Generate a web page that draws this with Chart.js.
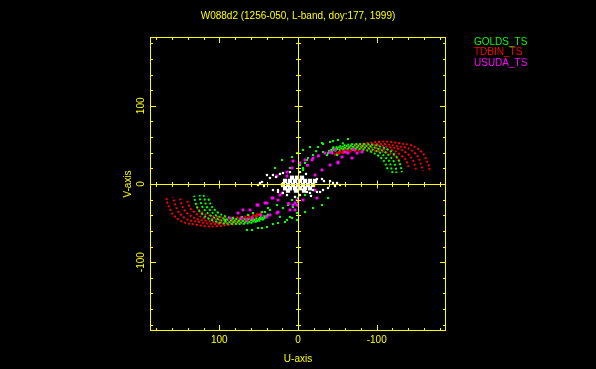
<!DOCTYPE html>
<html>
<head>
<meta charset="utf-8">
<script src="https://cdn.jsdelivr.net/npm/chart.js@4"></script>
<style>
  html, body { margin: 0; padding: 0; background: #000; }
  canvas { display: block; }
</style>
</head>
<body>
<canvas id="uv" width="596" height="369"></canvas>
<script>
// Text
const chartTitle = 'W088d2 (1256-050, L-band, doy:177, 1999)';
const xAxisTitle = 'U-axis';
const yAxisTitle = 'V-axis';
const seriesNames = ['GOLDS_TS', 'TDBIN_TS', 'USUDA_TS'];
const seriesColors = ['#00ff00', '#ff0000', '#ff00ff'];

// Axis range and ticks
const axisMin = -188;
const axisMax = 188;
const tickLabels = [100, 0, -100];
const minorTicks = [-180, -160, -140, -120, -100, -80, -60, -40, -20, 0, 20, 40, 60, 80, 100, 120, 140, 160, 180];

// TDBIN_TS tracks, [u, v]
const tdbinTracks = [
  [[-57, 46], [-72, 50], [-87, 52], [-104, 54], [-117, 54], [-129, 52], [-142, 50], [-151, 46], [-157, 41], [-161, 36], [-163, 31], [-166, 24], [-167, 18]],
  [[-54, 44], [-68, 47], [-83, 49], [-99, 51], [-111, 51], [-123, 49], [-135, 47], [-143, 44], [-149, 39], [-153, 34], [-155, 29], [-157, 23], [-159, 17]],
  [[-51, 41], [-65, 45], [-78, 47], [-94, 49], [-105, 49], [-116, 47], [-128, 45], [-136, 41], [-141, 37], [-145, 32], [-147, 28], [-149, 22], [-150, 16]],
  [[-48, 39], [-61, 43], [-74, 44], [-88, 46], [-99, 46], [-110, 44], [-121, 43], [-128, 39], [-133, 35], [-137, 31], [-139, 26], [-141, 20]],
  [[-46, 37], [-58, 40], [-70, 42], [-83, 43], [-94, 43], [-103, 42], [-114, 40], [-121, 37], [-126, 33], [-129, 28]],
  [[57, -46], [72, -50], [87, -52], [104, -54], [117, -54], [129, -52], [142, -50], [151, -46], [157, -41], [161, -36], [163, -31], [166, -24], [167, -18]],
  [[54, -44], [68, -47], [83, -49], [99, -51], [111, -51], [123, -49], [135, -47], [143, -44], [149, -39], [153, -34], [155, -29], [157, -23], [159, -17]],
  [[51, -41], [65, -45], [78, -47], [94, -49], [105, -49], [116, -47], [128, -45], [136, -41], [141, -37], [145, -32], [147, -28], [149, -22], [150, -16]],
  [[48, -39], [61, -43], [74, -44], [88, -46], [99, -46], [110, -44], [121, -43], [128, -39], [133, -35], [137, -31], [139, -26], [141, -20]],
  [[46, -37], [58, -40], [70, -42], [83, -43], [94, -43], [103, -42], [114, -40], [121, -37], [126, -33], [129, -28]],
];

// GOLDS_TS tracks, [u, v]
const goldsTracks = [
  [[-43, 45], [-56, 49], [-70, 51], [-84, 51], [-97, 50], [-107, 47], [-116, 43], [-122, 38], [-127, 32], [-130, 24], [-132, 15]],
  [[-41, 43], [-53, 47], [-66, 49], [-80, 49], [-92, 48], [-102, 45], [-110, 41], [-116, 36], [-121, 30], [-124, 22], [-125, 14]],
  [[-39, 41], [-51, 45], [-64, 47], [-76, 47], [-88, 46], [-97, 43], [-106, 39], [-111, 34], [-116, 29], [-118, 22], [-120, 14]],
  [[-37, 39], [-49, 43], [-61, 45], [-73, 45], [-84, 44], [-93, 41], [-101, 37], [-106, 33], [-110, 28], [-113, 21], [-115, 16]],
  [[43, -45], [56, -49], [70, -51], [84, -51], [97, -50], [107, -47], [116, -43], [122, -38], [127, -32], [130, -24], [132, -15]],
  [[41, -43], [53, -47], [66, -49], [80, -49], [92, -48], [102, -45], [110, -41], [116, -36], [121, -30], [124, -22], [125, -14]],
  [[39, -41], [51, -45], [64, -47], [76, -47], [88, -46], [97, -43], [106, -39], [111, -34], [116, -29], [118, -22], [120, -14]],
  [[37, -39], [49, -43], [61, -45], [73, -45], [84, -44], [93, -41], [101, -37], [106, -33], [110, -28], [113, -21], [115, -16]],
];

// GOLDS_TS sparse samples near the centre
const goldsDots = [
  [-44.5, 55], [-63.5, 57.5], [-31.8, 51.2], [-25.4, 47.3], [-15.2, 47.3], [-31.8, 40.9], [-39.4, 42.2],
  [-19.1, 37.1], [-12.7, 33.2], [-8.9, 26.9], [1.3, 39.6], [-6.4, 20.5], [-50.8, 56.3], [-40.7, 53.7],
  [-30.5, 52.4], [-6.4, 43.5], [-36.8, 37.1], [-49.6, 37.1], [-11.4, 30.7], [-2.5, 24.3], [7.6, 34.5],
  [20.3, 30.7], [29.2, 20.5], [10.2, 20.5], [-6.4, 17.9], [-57, 52], [-23, 42], [-45, 47],
  [7.6, -20.5], [6.4, -29.4], [7.6, -43.5], [-19.1, -30.7], [-8.9, -14.1], [12.7, -26.9], [19.1, -30.7],
  [26.7, -26.9], [38.1, -30.7], [45.7, -35.8], [57.2, -37.1], [63.5, -39.6], [48.3, -43.5], [58.4, -46],
  [16.5, -48.6], [25.4, -49.9], [31.8, -51.2], [39.4, -55], [50.8, -56.3], [58.4, -58.8], [1.3, -37.1],
  [-8.9, -35.8], [-30.5, -26.9], [-38.1, -17.9], [0, -17.9], [45.7, -56.3], [14, -46], [10.2, -42.2],
  [1.3, -46], [0, -23], [41.9, -35.8], [35.6, -33.2], [71.2, -42.2], [82.6, -43.5], [92.8, -46],
  [64.8, -46], [64.8, -58.8], [52, -47], [23, -42],
];

// USUDA_TS samples
const usudaDots = [
  [7.6, 20.5], [-2.5, 26.9], [-8.9, 30.7], [-19.1, 33.2], [-30.5, 17.9], [-40.7, 24.3], [-50.8, 26.9],
  [-34.3, 39.6], [-43.2, 39.6], [-55.9, 34.5], [-59.7, 40.9], [-63.5, 39.6], [-68.6, 33.2], [-75, 39.6],
  [-81.3, 40.9], [-21.6, 11.5], [-21.6, -7.7], [-6.4, -20.5], [1.3, -20.5], [-24.1, -17.9], [3.8, -33.2],
  [6.4, -26.9], [-40.7, 40.9], [-50.8, 28.1], [-17.8, 30.7], [6.4, 29.4], [14, 15.3],
  [-26, 36], [-47, 44], [-70, 44], [-12, 24],
  [31.8, -17.9], [25.4, -20.5], [39.4, -24.3], [52.1, -26.9], [61, -33.2], [58.4, -43.5], [35.6, -39.6],
  [26.7, -37.1], [3.8, -24.3], [64.8, -46], [86.4, -43.5], [76.2, -37.1], [69.9, -33.2], [50.8, -26.9],
  [41.9, -24.3], [33, -17.9], [22.9, -14.1], [39.4, -42.2], [20.3, -11.5], [26.7, 10.2], [14, 10.2],
  [1.3, -26.9], [10.2, -33.2], [25.4, -35.8], [47, -40], [72, -44], [12, -25],
];

// Short baselines (white), core and fringe
const shortCore = [
  [16.5, 4], [10.2, 4], [3.8, 4], [-2.5, 4], [-8.9, 4], [-15.2, 4], [-21.6, 4],
  [19.1, -1.3], [12.7, -1.3], [6.4, -1.3], [0, -1.3], [-6.4, -1.3], [-12.7, -1.3], [-19.1, -1.3],
  [16.5, -5.5], [10.2, -5.5], [3.8, -5.5], [-2.5, -5.5], [-8.9, -5.5], [-15.2, -5.5],
  [7.6, 8], [1.3, 8], [-5.1, 8], [12.7, -8.5], [2.5, -8.5], [-7.6, -8.5],
];
const shortFringe = [
  [48.3, 1.3], [45.7, 2.6], [43.2, -2.6], [50.8, -1.3], [39.4, 11.5], [35.6, 7.7], [31.8, 11.5],
  [28, 9], [22.9, 12.8], [19.1, 14.1], [10.2, 15.3], [-2.5, 15.3], [-10.2, 12.8], [-24.1, 6.4],
  [-30.5, 6.4], [-33, 3.8], [-40.7, 3.8], [-44.5, 1.3], [-49.6, 1.3], [-53.4, -1.3], [-47, -2.6],
  [31.8, -7.7], [25.4, -7.7], [25.4, -10.2], [19.1, -11.5], [14, -14.1], [3.8, -16.6], [-2.5, -14.1],
  [-11.4, -10.2], [-15.2, -11.5], [-16.5, -15.3], [-19.1, -7.7], [-24.1, -10.2], [-28, -10.2],
  [-31.8, -7.7], [-38.1, -5.1],
];

function trackSet(points, color) {
  return {
    data: points,
    showLine: true,
    borderColor: color,
    borderWidth: 2,
    borderDash: [2, 2],
    tension: 0.4,
    pointRadius: 0,
    fill: false,
  };
}

function dotSet(points, color, size) {
  return {
    data: points,
    showLine: false,
    pointStyle: 'rect',
    pointRadius: size,
    backgroundColor: color,
    borderWidth: 0,
  };
}

// first dataset is drawn on top
const datasets = [
  dotSet(shortCore, '#ffffff', 3),
  dotSet(shortFringe, '#ffffff', 1.6),
  dotSet(usudaDots, seriesColors[2], 2),
  dotSet(goldsDots, seriesColors[0], 1.5),
  ...goldsTracks.map((t) => trackSet(t, seriesColors[0])),
  ...tdbinTracks.map((t) => trackSet(t, seriesColors[1])),
];

// Frame, ticks, labels and legend in the PGPLOT style
const framePlugin = {
  id: 'frame',
  afterDraw(chart) {
    const { ctx, chartArea: a, scales: { x, y } } = chart;
    ctx.save();
    ctx.strokeStyle = '#ffff00';
    ctx.fillStyle = '#ffff00';
    ctx.lineWidth = 1;
    ctx.strokeRect(a.left + 0.5, a.top + 0.5, a.right - a.left - 1, a.bottom - a.top - 1);

    const x0 = Math.round(x.getPixelForValue(0)) + 0.5;
    const y0 = Math.round(y.getPixelForValue(0)) + 0.5;
    ctx.beginPath();
    ctx.moveTo(x0, a.top);
    ctx.lineTo(x0, a.bottom);
    ctx.moveTo(a.left, y0);
    ctx.lineTo(a.right, y0);
    minorTicks.forEach((t) => {
      const major = tickLabels.includes(t);
      const len = major ? 6 : 3;
      const half = major ? 4 : 2.5;
      const px = Math.round(x.getPixelForValue(t)) + 0.5;
      const py = Math.round(y.getPixelForValue(t)) + 0.5;
      ctx.moveTo(px, a.bottom); ctx.lineTo(px, a.bottom - len);
      ctx.moveTo(px, a.top); ctx.lineTo(px, a.top + len);
      ctx.moveTo(a.left, py); ctx.lineTo(a.left + len, py);
      ctx.moveTo(a.right, py); ctx.lineTo(a.right - len, py);
      ctx.moveTo(px, y0 - half); ctx.lineTo(px, y0 + half);
      ctx.moveTo(x0 - half, py); ctx.lineTo(x0 + half, py);
    });
    ctx.stroke();

    ctx.font = '10px "Liberation Sans"';
    ctx.textAlign = 'center';
    ctx.textBaseline = 'middle';
    const cx = (a.left + a.right) / 2;
    ctx.fillText(chartTitle, cx, 16);
    ctx.fillText(xAxisTitle, cx, 359);
    tickLabels.forEach((t) => {
      ctx.fillText(String(t), x.getPixelForValue(t), a.bottom + 9);
      ctx.save();
      ctx.translate(a.left - 9, y.getPixelForValue(t));
      ctx.rotate(-Math.PI / 2);
      ctx.fillText(String(t), 0, 0);
      ctx.restore();
    });
    ctx.save();
    ctx.translate(128, (a.top + a.bottom) / 2);
    ctx.rotate(-Math.PI / 2);
    ctx.fillText(yAxisTitle, 0, 0);
    ctx.restore();

    ctx.textAlign = 'left';
    seriesNames.forEach((name, i) => {
      ctx.fillStyle = seriesColors[i];
      ctx.fillText(name, 474, 42 + i * 10.5);
    });
    ctx.restore();
  },
};

new Chart(document.getElementById('uv'), {
  type: 'scatter',
  data: { datasets },
  options: {
    responsive: false,
    animation: false,
    layout: { padding: { left: 150, right: 150, top: 37, bottom: 38 } },
    scales: {
      x: { type: 'linear', min: axisMin, max: axisMax, reverse: true, display: false },
      y: { type: 'linear', min: axisMin, max: axisMax, display: false },
    },
    plugins: {
      legend: { display: false },
      tooltip: { enabled: false },
    },
  },
  plugins: [framePlugin],
});
</script>
</body>
</html>
